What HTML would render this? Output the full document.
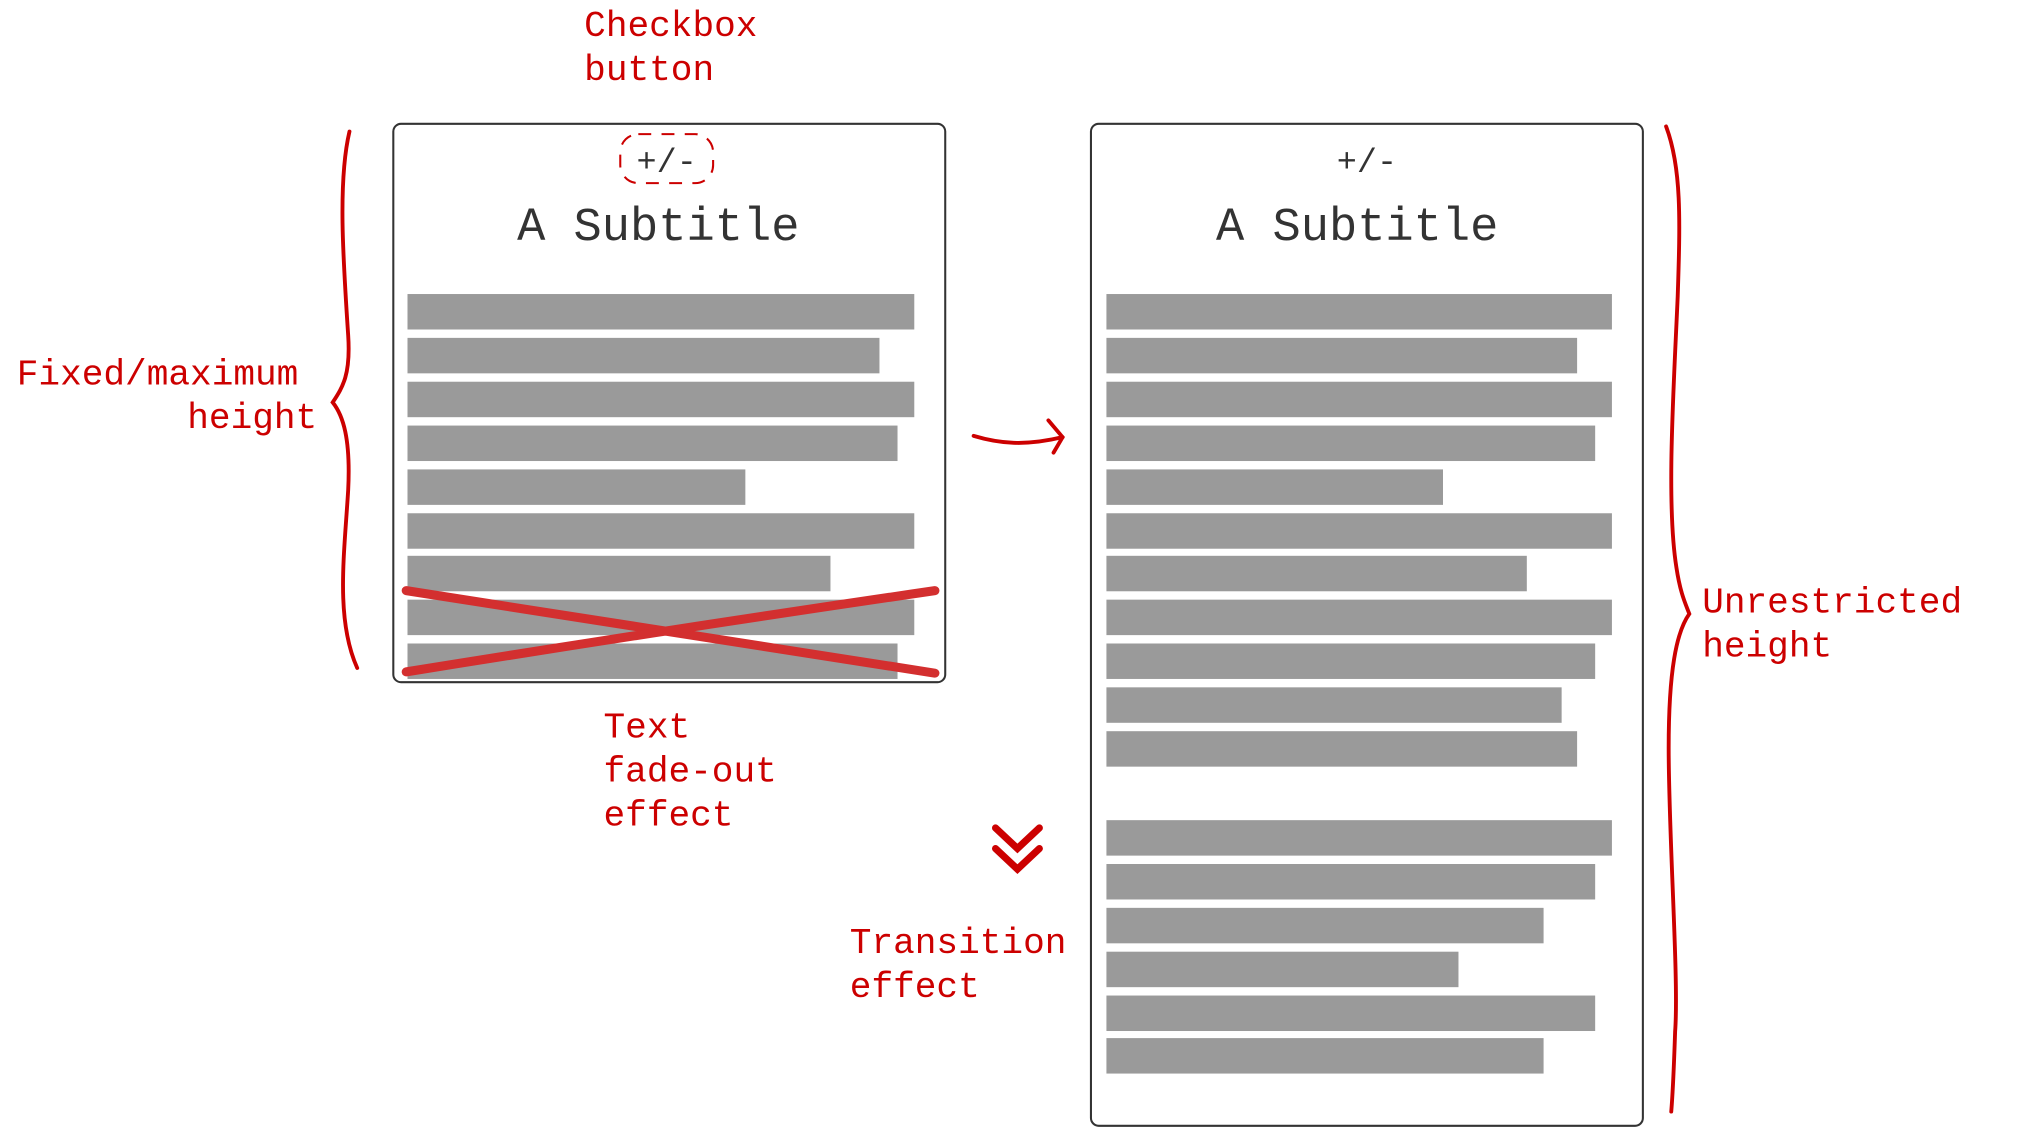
<!DOCTYPE html>
<html><head><meta charset="utf-8"><style>
html,body{margin:0;padding:0;background:#fff;width:2022px;height:1128px;overflow:hidden}
svg{display:block}
text{font-family:"Liberation Mono",monospace}
.r{fill:#cc0000;font-size:28px}
.g{fill:#9a9a9a}
</style></head><body>
<svg width="2022" height="1128" viewBox="0 0 1568 874.7" xmlns="http://www.w3.org/2000/svg">
<!-- left box -->
<rect x="305" y="96" width="428" height="433" rx="6" fill="#fff" stroke="#333" stroke-width="1.6"/>
<rect x="481" y="104" width="72" height="38" rx="14" fill="none" stroke="#cc0000" stroke-width="1.6" stroke-dasharray="10,8"/>
<text x="517" y="133" font-size="26" fill="#333" text-anchor="middle">+/-</text>
<text x="401" y="186" font-size="36.5" fill="#333">A Subtitle</text>
<g class="g">
<rect x="316" y="228" width="393" height="27.5"/>
<rect x="316" y="262" width="366" height="27.5"/>
<rect x="316" y="296" width="393" height="27.5"/>
<rect x="316" y="330" width="380" height="27.5"/>
<rect x="316" y="364" width="262" height="27.5"/>
<rect x="316" y="398" width="393" height="27.5"/>
<rect x="316" y="431" width="328" height="27.5"/>
<rect x="316" y="465" width="393" height="27.5"/>
<rect x="316" y="499" width="380" height="27.5"/>
</g>
<g stroke="#d32f2f" stroke-width="7" stroke-linecap="round" fill="none">
<path d="M315 458 Q520 490 725 522"/>
<path d="M315 521 Q520 488 725 458"/>
</g>
<!-- right box -->
<rect x="846" y="96" width="428" height="777" rx="6" fill="#fff" stroke="#333" stroke-width="1.6"/>
<text x="1060" y="133" font-size="26" fill="#333" text-anchor="middle">+/-</text>
<text x="943" y="186" font-size="36.5" fill="#333">A Subtitle</text>
<g class="g">
<rect x="858" y="228" width="392" height="27.5"/>
<rect x="858" y="262" width="365" height="27.5"/>
<rect x="858" y="296" width="392" height="27.5"/>
<rect x="858" y="330" width="379" height="27.5"/>
<rect x="858" y="364" width="261" height="27.5"/>
<rect x="858" y="398" width="392" height="27.5"/>
<rect x="858" y="431" width="326" height="27.5"/>
<rect x="858" y="465" width="392" height="27.5"/>
<rect x="858" y="499" width="379" height="27.5"/>
<rect x="858" y="533" width="353" height="27.5"/>
<rect x="858" y="567" width="365" height="27.5"/>
<rect x="858" y="636" width="392" height="27.5"/>
<rect x="858" y="670" width="379" height="27.5"/>
<rect x="858" y="704" width="339" height="27.5"/>
<rect x="858" y="738" width="273" height="27.5"/>
<rect x="858" y="772" width="379" height="27.5"/>
<rect x="858" y="805" width="339" height="27.5"/>
</g>
<!-- braces -->
<g fill="none" stroke="#cc0000" stroke-width="3" stroke-linecap="round">
<path d="M271 102 C262 140 266 200 270 260 C272 290 266 300 258 312 C266 322 272 340 270 380 C267 430 260 480 277 518"/>
<path d="M1292 98 C1304 130 1303 170 1301 230 C1298 300 1292 390 1300 440 C1303 460 1307 468 1310 476 C1300 490 1294 520 1294 580 C1294 650 1302 760 1299 800 C1298 830 1297 850 1296 862"/>
<path d="M755 338 C775 344 795 346 824 339"/>
<path d="M813 326 L824 339 L817 351"/>
</g>
<g fill="none" stroke="#cc0000" stroke-width="5.5" stroke-linecap="round" stroke-linejoin="miter">
<path d="M772 642 L789 658 L806 642"/>
<path d="M772 658 L789 674 L806 658"/>
</g>
<!-- labels -->
<text class="r" x="453" y="28">Checkbox</text>
<text class="r" x="453" y="62">button</text>
<text class="r" x="13" y="298">Fixed/maximum</text>
<text class="r" x="246" y="332" text-anchor="end">height</text>
<text class="r" x="468" y="572">Text</text>
<text class="r" x="468" y="606">fade-out</text>
<text class="r" x="468" y="640">effect</text>
<text class="r" x="659" y="739">Transition</text>
<text class="r" x="659" y="773">effect</text>
<text class="r" x="1320" y="475">Unrestricted</text>
<text class="r" x="1320" y="509">height</text>
</svg>
</body></html>
